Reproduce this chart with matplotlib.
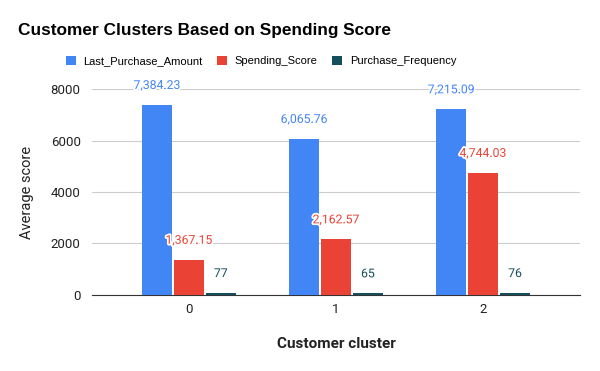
import numpy as np
import matplotlib.pyplot as plt
import matplotlib.patheffects as pe

clusters = ['0', '1', '2']
last_purchase = [7384.23, 6065.76, 7215.09]
spending = [1367.15, 2162.57, 4744.03]
frequency = [77, 65, 76]
series_names = ['Last_Purchase_Amount', 'Spending_Score', 'Purchase_Frequency']
colors = ['#4285F4', '#EA4335', '#134F5C']

fig = plt.figure(figsize=(6, 3.71), dpi=100)
ax = fig.add_axes([0.153, 0.205, 0.814, 0.555])

x = np.arange(len(clusters))
w = 0.204
halo = [pe.withStroke(linewidth=2.5, foreground='white')]
handles = []
for i, (vals, name, c) in enumerate(zip([last_purchase, spending, frequency], series_names, colors)):
    pos = x + (i - 1) * (w + 0.013)
    bars = ax.bar(pos, vals, w, color=c, label=name, zorder=3)
    handles.append(bars)
    for xi, v in zip(pos, vals):
        txt = f'{v:,.2f}' if v >= 1000 else f'{v:.0f}'
        ax.annotate(txt, (xi, v), xytext=(0, 14), textcoords='offset points',
                    ha='center', va='center', color=c, fontsize=8.8, family='Roboto',
                    path_effects=halo, annotation_clip=False, zorder=5)

ax.set_xlim(-0.66, 2.66)
ax.set_ylim(0, 8000)
ax.set_yticks([0, 2000, 4000, 6000, 8000])
ax.set_xticks(x)
ax.set_xticklabels(clusters)
ax.grid(axis='y', color='#cccccc', linewidth=0.8, zorder=0)
for s in ['top', 'right', 'left']:
    ax.spines[s].set_visible(False)
ax.spines['bottom'].set_color('#333333')
ax.tick_params(axis='both', length=0, labelsize=9.5, labelcolor='#222222')
ax.tick_params(axis='x', pad=6)
ax.tick_params(axis='y', pad=8)
for lab in ax.get_xticklabels() + ax.get_yticklabels():
    lab.set_family('Roboto')

ax.set_ylabel('Average score', fontsize=10.5, family='Roboto', color='#222222', labelpad=12)
fig.text(0.56, 0.073, 'Customer cluster', ha='center', va='center', fontsize=11,
         fontweight='bold', family='Roboto', color='#222222')
fig.text(0.03, 0.918, 'Customer Clusters Based on Spending Score', ha='left', va='center',
         fontsize=12.4, fontweight='bold', family='Liberation Sans')

fig.legend(handles=handles, loc='center', bbox_to_anchor=(0.435, 0.835), ncol=3, frameon=False,
           prop={'family': 'Liberation Sans', 'size': 8}, handlelength=0.9, handleheight=0.9,
           handletextpad=0.7, columnspacing=1.3)

fig.savefig('out.png', dpi=100)
